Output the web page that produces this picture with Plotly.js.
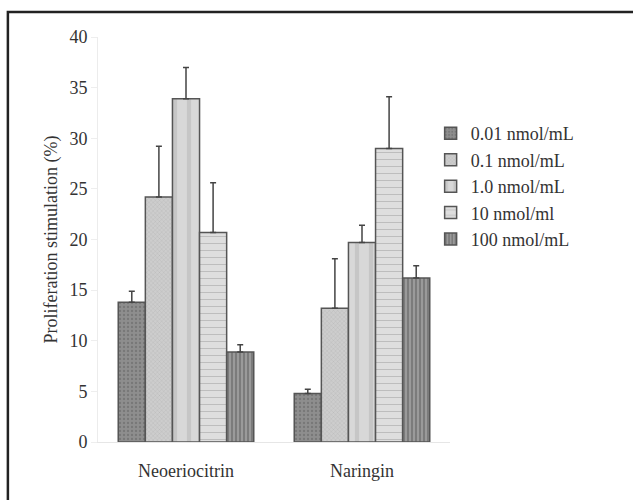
<!DOCTYPE html>
<html>
<head>
<meta charset="utf-8">
<script src="https://cdn.plot.ly/plotly-3.0.1.min.js"></script>
<style>html,body{margin:0;padding:0;background:#fff;}#chart{width:633px;height:500px;}</style>
</head>
<body>
<div id="chart"></div>
<script>
const categories = ["Neoeriocitrin", "Naringin"];
const seriesNames = ["0.01 nmol/mL", "0.1 nmol/mL", "1.0 nmol/mL", "10 nmol/ml", "100 nmol/mL"];
const v001 = [13.8, 4.8];
const v01 = [24.2, 13.2];
const v1 = [33.9, 19.7];
const v10 = [20.7, 29.0];
const v100 = [8.9, 16.2];
const e001 = [1.1, 0.4];
const e01 = [5.0, 4.9];
const e1 = [3.1, 1.7];
const e10 = [4.9, 5.1];
const e100 = [0.7, 1.2];
const yTicks = [0, 5, 10, 15, 20, 25, 30, 35, 40];

const values = [v001, v01, v1, v10, v100];
const errs = [e001, e01, e1, e10, e100];
const styles = [
  {bg: "#8e8e8e", fg: "#777777", shape: ".", size: 4, sol: 0.25},
  {bg: "#cdcdcd", fg: "#a8a8a8", shape: "x", size: 3, sol: 0.15},
  {bg: "#d8d8d8", fg: "#c6c6c6", shape: "|", size: 14, sol: 0.3},
  {bg: "#dedede", fg: "#bdbdbd", shape: "-", size: 7, sol: 0.15},
  {bg: "#9a9a9a", fg: "#666666", shape: "|", size: 4, sol: 0.3}
];

const data = values.map((v, i) => ({
  type: "bar",
  name: seriesNames[i],
  x: categories,
  y: v,
  marker: {
    color: styles[i].bg,
    line: {color: "#555", width: 1.5},
    pattern: {shape: styles[i].shape, bgcolor: styles[i].bg, fgcolor: styles[i].fg, size: styles[i].size, solidity: styles[i].sol, fillmode: "replace"}
  },
  error_y: {type: "data", array: errs[i], arrayminus: [0, 0], symmetric: false, color: "#444", thickness: 1.5, width: 3}
}));

const layout = {
  width: 633, height: 500,
  margin: {l: 98, r: 183, t: 37, b: 58},
  paper_bgcolor: "#fff", plot_bgcolor: "#fff",
  font: {family: "Liberation Serif, Times New Roman, serif", size: 18, color: "#333"},
  barmode: "group", bargap: 0.23, bargroupgap: 0,
  showlegend: true,
  legend: {x: 0.945, xanchor: "left", y: 0.807, yanchor: "top", font: {size: 18, color: "#333"}, tracegroupgap: 0, itemwidth: 30, bgcolor: "rgba(0,0,0,0)"},
  xaxis: {
    type: "category", range: [-0.5, 1.5],
    showline: true, linecolor: "#e6e6e6", linewidth: 1,
    ticks: "", showgrid: false, tickfont: {size: 18, color: "#333"},
    ticklabelstandoff: 12
  },
  yaxis: {
    range: [0, 40], tickvals: yTicks, ticktext: yTicks.map(String),
    showline: true, linecolor: "#ececec", linewidth: 1,
    ticks: "outside", ticklen: 6, tickcolor: "#eeeeee",
    showgrid: false, zeroline: false, tickfont: {size: 18, color: "#333"},
    title: {text: "Proliferation stimulation (%)", font: {size: 18, color: "#333"}, standoff: 7}
  },
  shapes: [
    {type: "rect", xref: "paper", yref: "paper", x0: -0.256, x1: 1.6, y0: -0.3, y1: 1.062, line: {color: "#222", width: 2.5}}
  ]
};

Plotly.newPlot("chart", data, layout, {displayModeBar: false, staticPlot: true});
</script>
</body>
</html>
